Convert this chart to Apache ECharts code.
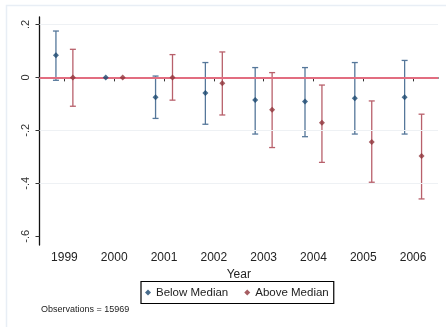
<!DOCTYPE html>
<html>
<head>
<meta charset="utf-8">
<script src="https://cdn.jsdelivr.net/npm/echarts@6/dist/echarts.min.js"></script>
<style>html,body{margin:0;padding:0;background:#fff}#c{width:446px;height:327px}</style>
</head>
<body>
<div id="c"></div>
<script>
const years = [1999, 2000, 2001, 2002, 2003, 2004, 2005, 2006];
const belowEst   = [0.084, 0, -0.075, -0.059, -0.085, -0.091, -0.079, -0.075];
const belowLower = [-0.011, null, -0.155, -0.177, -0.214, -0.224, -0.214, -0.214];
const belowUpper = [0.175, null, 0.005, 0.056, 0.037, 0.037, 0.056, 0.064];
const aboveEst   = [0.0, 0, 0.0, -0.0225, -0.122, -0.171, -0.244, -0.297];
const aboveLower = [-0.109, null, -0.086, -0.142, -0.265, -0.321, -0.396, -0.459];
const aboveUpper = [0.106, null, 0.086, 0.096, 0.018, -0.029, -0.089, -0.139];
const yTicks = [0.2, 0, -0.2, -0.4, -0.6];
const yTickLabels = ['.2', '0', '-.2', '-.4', '-.6'];
const observationsNote = 'Observations = 15969';

const OFFSET = 0.17;
const BLUE = '#1a476f', BLUE_CI = '#55779a';
const RED = '#90353b', RED_CI = '#b8606b';

function ciData(lower, upper, off) {
  const out = [];
  years.forEach((y, i) => {
    if (lower[i] !== null) out.push([y + off, lower[i], upper[i]]);
  });
  return out;
}
function ptData(est, off) {
  return years.map((y, i) => [y + off, est[i]]);
}
function ciRender(color) {
  return function (params, api) {
    const x = api.value(0);
    const lo = api.coord([x, api.value(1)]);
    const hi = api.coord([x, api.value(2)]);
    const cap = 3;
    const style = { stroke: color, lineWidth: 1.3 };
    return {
      type: 'group',
      children: [
        { type: 'line', shape: { x1: lo[0], y1: lo[1], x2: hi[0], y2: hi[1] }, style },
        { type: 'line', shape: { x1: lo[0] - cap, y1: lo[1], x2: lo[0] + cap, y2: lo[1] }, style },
        { type: 'line', shape: { x1: hi[0] - cap, y1: hi[1], x2: hi[0] + cap, y2: hi[1] }, style }
      ]
    };
  };
}

const chart = echarts.init(document.getElementById('c'), null, { renderer: 'canvas' });
chart.setOption({
  animation: false,
  backgroundColor: '#fff',
  textStyle: { fontFamily: 'Liberation Sans, Arial, sans-serif' },
  grid: { left: 39.5, right: 8, top: 17, bottom: 82 },
  graphic: [
    { type: 'rect', z: -10, silent: true,
      shape: { x: 6.5, y: 5.5, width: 460, height: 340 },
      style: { fill: 'none', stroke: '#e8eef5', lineWidth: 1.5 } },
    { type: 'text', left: 41, top: 305,
      style: { text: observationsNote, font: '9px Liberation Sans, Arial, sans-serif', fill: '#222' } }
  ],
  legend: {
    left: 141, top: 281.5,
    itemGap: 16, itemWidth: 6, itemHeight: 6,
    padding: [5, 5, 5, 4],
    borderColor: '#000', borderWidth: 1.2, borderRadius: 0,
    textStyle: { fontSize: 11.5, color: '#222', fontFamily: 'Liberation Sans, Arial, sans-serif' },
    data: [
      { name: 'Below Median', icon: 'diamond', itemStyle: { color: BLUE } },
      { name: 'Above Median', icon: 'diamond', itemStyle: { color: RED } }
    ]
  },
  xAxis: {
    type: 'value', min: 1998.5, max: 2006.5,
    name: 'Year', nameLocation: 'middle', nameGap: 17,
    nameTextStyle: { fontSize: 12, color: '#222' },
    axisLine: { lineStyle: { color: '#777', width: 2 } },
    axisTick: { customValues: years, length: 4, lineStyle: { color: '#333' } },
    axisLabel: { customValues: years, fontSize: 12, color: '#222', margin: 7, formatter: v => String(Math.round(v)) },
    splitLine: { show: false }
  },
  yAxis: {
    type: 'value', min: -0.633, max: 0.228,
    axisLine: { show: true, lineStyle: { color: '#111', width: 1.3 } },
    axisTick: { show: true, customValues: yTicks, length: 4, lineStyle: { color: '#333' } },
    axisLabel: {
      customValues: yTicks, rotate: 90, fontSize: 11, color: '#333', margin: 8,
      formatter: v => { const i = yTicks.findIndex(t => Math.abs(t - v) < 1e-9); return i >= 0 ? yTickLabels[i] : ''; }
    },
    splitLine: { show: false }
  },
  series: [
    { type: 'line', data: [], silent: true,
      markLine: { symbol: 'none', silent: true, label: { show: false },
        lineStyle: { color: '#eef1f4', width: 1, type: 'solid' },
        data: yTicks.filter(t => t !== 0 && t !== -0.6).map(t => ({ yAxis: t })) } },
    { type: 'line', data: [], silent: true, z: 1,
      markLine: { symbol: 'none', silent: true, label: { show: false },
        lineStyle: { color: '#e26d80', width: 2, type: 'solid' },
        data: [{ yAxis: 0 }] } },
    { type: 'custom', name: 'Below Median CI', renderItem: ciRender(BLUE_CI), data: ciData(belowLower, belowUpper, -OFFSET), z: 3 },
    { type: 'custom', name: 'Above Median CI', renderItem: ciRender(RED_CI), data: ciData(aboveLower, aboveUpper, OFFSET), z: 3 },
    { type: 'scatter', name: 'Below Median', symbol: 'diamond', symbolSize: 6, itemStyle: { color: BLUE }, data: ptData(belowEst, -OFFSET), z: 5 },
    { type: 'scatter', name: 'Above Median', symbol: 'diamond', symbolSize: 6, itemStyle: { color: RED }, data: ptData(aboveEst, OFFSET), z: 5 }
  ]
});
</script>
</body>
</html>
